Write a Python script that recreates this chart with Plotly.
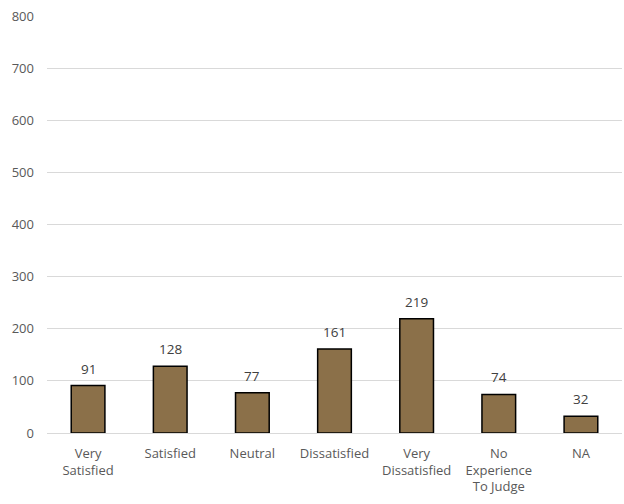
import plotly.graph_objects as go

categories = ["Very<br>Satisfied", "Satisfied", "Neutral", "Dissatisfied",
              "Very<br>Dissatisfied", "No<br>Experience<br>To Judge", "NA"]
values = [91, 128, 77, 161, 219, 74, 32]
y_ticks = [0, 100, 200, 300, 400, 500, 600, 700, 800]

fig = go.Figure(go.Bar(
    x=categories, y=values,
    marker=dict(color="#8B7049", line=dict(color="black", width=1.5)),
    width=0.41,
    hoverinfo="x+y",
))
for c, v in zip(categories, values):
    fig.add_annotation(x=c, y=v, text=str(v), showarrow=False, yanchor="bottom",
                       yshift=6, font=dict(color="#404040", size=13.5))
fig.update_layout(
    width=624, height=504,
    margin=dict(l=47, r=2, t=16, b=71),
    paper_bgcolor="white", plot_bgcolor="white",
    font=dict(family="Open Sans, Liberation Sans, sans-serif", size=13, color="#595959"),
    showlegend=False,
    xaxis=dict(showgrid=False, showline=True, linecolor="#d9d9d9", ticks="",
               automargin=False, ticklabelstandoff=8,
               tickfont=dict(size=13, color="#595959")),
    yaxis=dict(range=[0, 800], tickvals=y_ticks, showgrid=True, gridcolor="#d9d9d9",
               zeroline=False, ticks="", automargin=False,
               tickfont=dict(size=13, color="#595959"),
               ticklabelstandoff=12),
)
fig.write_html("out.html", post_script="document.body.style.margin='0';",
               config={"displayModeBar": False})
